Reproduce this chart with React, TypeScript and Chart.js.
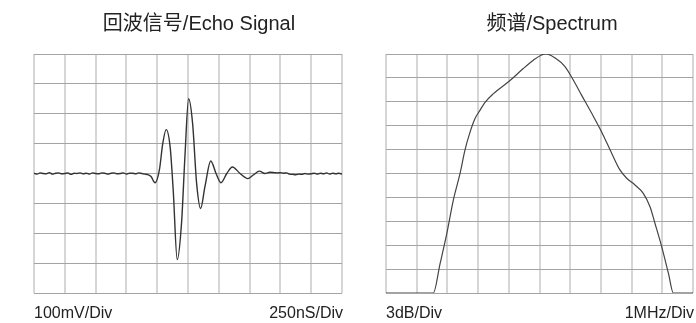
import React, { useEffect, useRef } from "react";
import { Chart, registerables } from "chart.js";

Chart.register(...registerables);

// ---- Echo signal (x in divisions of 250nS, y in divisions of 100mV) ----
const echoX = [
  0, 0.1, 0.2, 0.3, 0.4, 0.5, 0.6, 0.7, 0.8, 0.9, 1.0, 1.1, 1.2, 1.3, 1.4, 1.5, 1.6, 1.7, 1.8, 1.9,
  2.0, 2.1, 2.2, 2.3, 2.4, 2.5, 2.6, 2.7, 2.8, 2.9, 3.0, 3.1, 3.2, 3.3, 3.4, 3.5, 3.6, 3.7, 3.8,
  3.93, 4.07, 4.18, 4.29, 4.42, 4.52, 4.65, 4.79, 4.9, 5.02, 5.15, 5.28, 5.41, 5.55, 5.74, 5.91,
  6.07, 6.26, 6.44, 6.69, 6.94, 7.12, 7.32, 7.5, 7.66, 7.8, 7.9, 8.0, 8.1, 8.2, 8.3, 8.4, 8.5,
  8.6, 8.7, 8.8, 8.9, 9.0, 9.1, 9.2, 9.3, 9.4, 9.5, 9.6, 9.7, 9.8, 9.9, 10,
];
const echoY = [
  0.01, -0.02, 0.02, 0, -0.01, 0.03, -0.02, 0.01, 0.02, -0.01, 0, 0.02, -0.03, 0.01, 0, 0.02, -0.01, 0.01, -0.02, 0.02,
  0, -0.01, 0.02, 0.01, -0.02, 0.01, 0.02, -0.01, 0, 0.02, -0.02, 0.01, 0.01, -0.01, 0.02, 0, -0.02, -0.04, -0.1,
  -0.31, 0.11, 1.0, 1.47, 0.89, -0.56, -2.88, -1.66, 0.56, 2.5, 1.67, -0.33, -1.17, -0.44, 0.42, 0,
  -0.31, 0, 0.22, 0, -0.17, -0.05, 0.08, 0, 0.04, 0.03, 0.02, 0.03, 0.01, 0.02, -0.02, -0.03, -0.04,
  -0.02, -0.03, 0, -0.02, -0.01, 0.01, -0.02, 0.01, -0.01, 0.02, -0.02, 0.01, -0.01, 0.01, -0.02,
];

// ---- Spectrum (x in MHz divisions, y in 3dB divisions) ----
const specX = [
  0, 1.54, 1.76, 1.98, 2.19, 2.41, 2.57, 2.74, 2.9, 3.06, 3.22, 3.5, 4.02, 4.47, 4.8, 5.05, 5.22,
  5.5, 5.83, 6.1, 6.37, 6.7, 7.02, 7.35, 7.62, 7.84, 8.11, 8.38, 8.6, 8.76, 8.98, 9.2, 9.36, 10,
];
const specY = [
  0, 0, 1.22, 2.48, 3.87, 4.99, 5.97, 6.74, 7.3, 7.64, 7.97, 8.34, 8.87, 9.39, 9.74, 9.95, 10,
  9.84, 9.47, 8.91, 8.28, 7.52, 6.75, 5.85, 5.15, 4.8, 4.52, 4.17, 3.61, 2.92, 1.94, 0.82, 0, 0,
];

const echoTitle = "回波信号/Echo Signal";
const specTitle = "频谱/Spectrum";
const echoLabels = ["100mV/Div", "250nS/Div"];
const specLabels = ["3dB/Div", "1MHz/Div"];

const FONT = '"Liberation Sans", Arial, "Noto Sans CJK SC", sans-serif';

function textPlugin(title: string, titleX: number, labels: string[]) {
  return {
    id: "panelText",
    afterDraw(chart: any) {
      const { ctx, chartArea } = chart;
      ctx.save();
      ctx.fillStyle = "#222";
      ctx.textBaseline = "alphabetic";
      ctx.font = `20px ${FONT}`;
      ctx.textAlign = "center";
      ctx.fillText(title, titleX, 29.5);
      ctx.font = `16px ${FONT}`;
      ctx.textAlign = "left";
      ctx.fillText(labels[0], chartArea.left, 318);
      ctx.textAlign = "right";
      ctx.fillText(labels[1], chartArea.right + 1, 318);
      ctx.restore();
    },
  };
}

function makeConfig(
  xs: number[],
  ys: number[],
  yMin: number,
  yMax: number,
  padding: any,
  plugin: any,
  color: string,
  width: number
): any {
  return {
    type: "line",
    data: {
      datasets: [
        {
          data: xs.map((x, i) => ({ x, y: ys[i] })),
          borderColor: color,
          borderWidth: width,
          pointRadius: 0,
          fill: false,
          cubicInterpolationMode: "monotone",
        },
      ],
    },
    options: {
      animation: false,
      responsive: false,
      maintainAspectRatio: false,
      layout: { padding },
      plugins: { legend: { display: false }, tooltip: { enabled: false }, title: { display: false } },
      scales: {
        x: {
          type: "linear",
          min: 0,
          max: 10,
          ticks: { display: false, stepSize: 1 },
          grid: { color: "#d6d6d6", lineWidth: 2, drawTicks: false },
          border: { display: false },
        },
        y: {
          type: "linear",
          min: yMin,
          max: yMax,
          ticks: { display: false, stepSize: 1 },
          grid: { color: "#a4a4a4", lineWidth: 1, drawTicks: false },
          border: { display: false },
        },
      },
    },
    plugins: [plugin],
  };
}

export default function App() {
  const leftRef = useRef<HTMLCanvasElement>(null);
  const rightRef = useRef<HTMLCanvasElement>(null);

  useEffect(() => {
    const left = new Chart(
      leftRef.current as HTMLCanvasElement,
      makeConfig(
        echoX,
        echoY,
        -4,
        4,
        { left: 34, right: 6, top: 54, bottom: 30 },
        textPlugin(echoTitle, 199, echoLabels),
        "#333",
        1.4
      )
    );
    const right = new Chart(
      rightRef.current as HTMLCanvasElement,
      makeConfig(
        specX,
        specY,
        0,
        10,
        { left: 38, right: 3, top: 54, bottom: 30 },
        textPlugin(specTitle, 552 - 348, specLabels),
        "#444",
        1.2
      )
    );
    return () => {
      left.destroy();
      right.destroy();
    };
  }, []);

  return (
    <div style={{ position: "absolute", left: 0, top: 0, width: 696, height: 323, background: "#fff" }}>
      <canvas ref={leftRef} width={348} height={323} style={{ position: "absolute", left: 0, top: 0, width: 348, height: 323 }} />
      <canvas ref={rightRef} width={348} height={323} style={{ position: "absolute", left: 348, top: 0, width: 348, height: 323 }} />
    </div>
  );
}
